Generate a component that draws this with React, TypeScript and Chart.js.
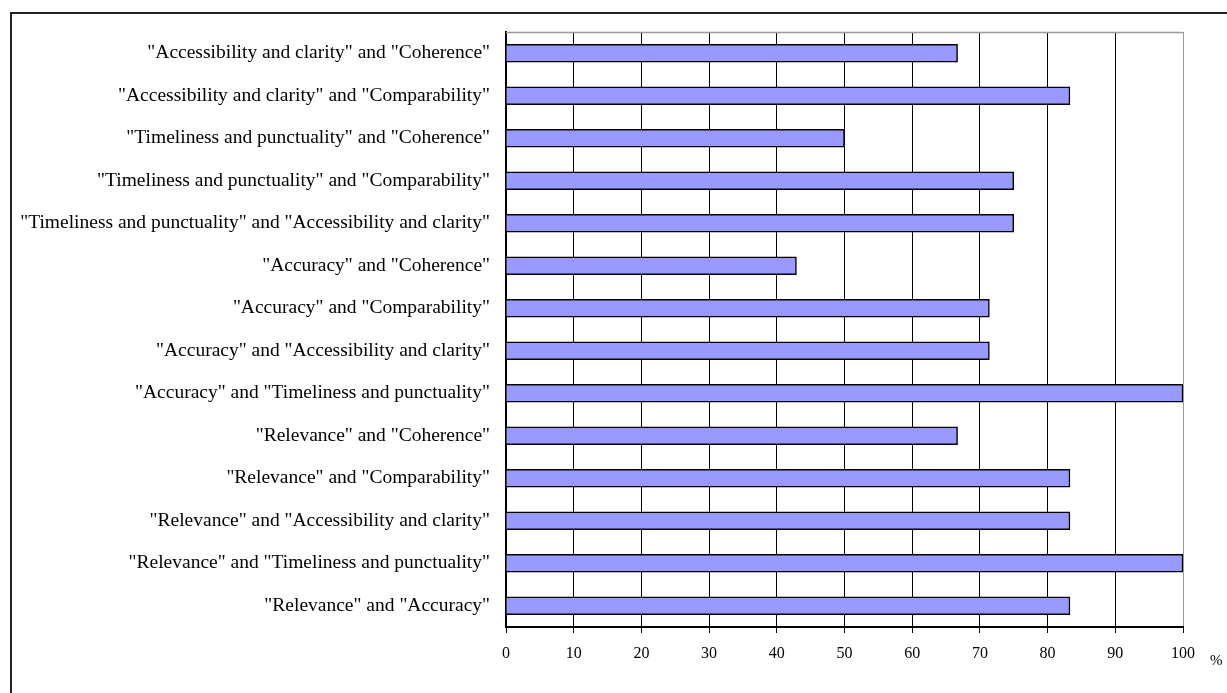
import React, { useEffect, useRef } from "react";
import { Chart, registerables } from "chart.js";

Chart.register(...registerables);

const categories: string[] = [
  '"Accessibility and clarity" and "Coherence"',
  '"Accessibility and clarity" and "Comparability"',
  '"Timeliness and punctuality" and "Coherence"',
  '"Timeliness and punctuality" and "Comparability"',
  '"Timeliness and punctuality" and "Accessibility and clarity"',
  '"Accuracy" and "Coherence"',
  '"Accuracy" and "Comparability"',
  '"Accuracy" and "Accessibility and clarity"',
  '"Accuracy" and "Timeliness and punctuality"',
  '"Relevance" and "Coherence"',
  '"Relevance" and "Comparability"',
  '"Relevance" and "Accessibility and clarity"',
  '"Relevance" and "Timeliness and punctuality"',
  '"Relevance" and "Accuracy"',
];

const values: number[] = [66.7, 83.3, 50, 75, 75, 42.9, 71.4, 71.4, 100, 66.7, 83.3, 83.3, 100, 83.3];

const xMin = 0;
const xMax = 100;
const xStep = 10;
const unitLabel = "%";

const FONT = "'Liberation Serif', 'Times New Roman', serif";

export default function App() {
  const ref = useRef<HTMLCanvasElement | null>(null);

  useEffect(() => {
    if (!ref.current) return;
    const plotFrame = {
      id: "plotFrame",
      afterDraw(chart: any) {
        const { ctx, chartArea } = chart;
        ctx.save();
        ctx.strokeStyle = "#999999";
        ctx.lineWidth = 1.5;
        ctx.beginPath();
        ctx.moveTo(chartArea.left, chartArea.top + 0.5);
        ctx.lineTo(chartArea.right, chartArea.top + 0.5);
        ctx.stroke();
        ctx.fillStyle = "#000";
        ctx.font = `15px ${FONT}`;
        ctx.textAlign = "left";
        ctx.textBaseline = "middle";
        ctx.fillText(unitLabel, chartArea.right + 27, chartArea.bottom + 34);
        ctx.restore();
      },
    };
    const chart = new Chart(ref.current, {
      type: "bar",
      data: {
        labels: categories,
        datasets: [
          {
            data: values,
            backgroundColor: "#9999FF",
            borderColor: "#000000",
            borderWidth: 1.5,
            barThickness: 18,
          },
        ],
      },
      options: {
        indexAxis: "y",
        animation: false,
        responsive: false,
        maintainAspectRatio: false,
        layout: { padding: { left: 0, right: 44, top: 32, bottom: 0 } },
        plugins: { legend: { display: false }, tooltip: { enabled: false } },
        scales: {
          x: {
            min: xMin,
            max: xMax,
            ticks: {
              stepSize: xStep,
              color: "#000",
              font: { family: FONT, size: 16 },
              padding: 11,
              maxRotation: 0,
            },
            grid: {
              color: (c: any) => (c.tick && c.tick.value === xMax ? "#999999" : "#000000"),
              lineWidth: 1,
              tickLength: 6,
              tickColor: "#000",
            },
            border: { color: "#000", width: 2 },
            afterFit: (s: any) => {
              s.height = 66;
            },
          },
          y: {
            ticks: {
              color: "#000",
              font: { family: FONT, size: 19.5 },
              padding: 8,
              autoSkip: false,
            },
            grid: { display: false },
            border: { color: "#000", width: 2 },
            afterFit: (s: any) => {
              s.width = 506;
            },
          },
        },
      },
      plugins: [plotFrame],
    });
    return () => chart.destroy();
  }, []);

  return (
    <div style={{ position: "fixed", left: 0, top: 0, width: 1227, height: 693, background: "#fff", overflow: "hidden" }}>
      <div
        style={{
          position: "absolute",
          left: 10,
          top: 12,
          width: 1240,
          height: 700,
          border: "2px solid #222",
          boxSizing: "border-box",
        }}
      />
      <canvas ref={ref} width={1227} height={693} style={{ position: "absolute", left: 0, top: 0 }} />
    </div>
  );
}
